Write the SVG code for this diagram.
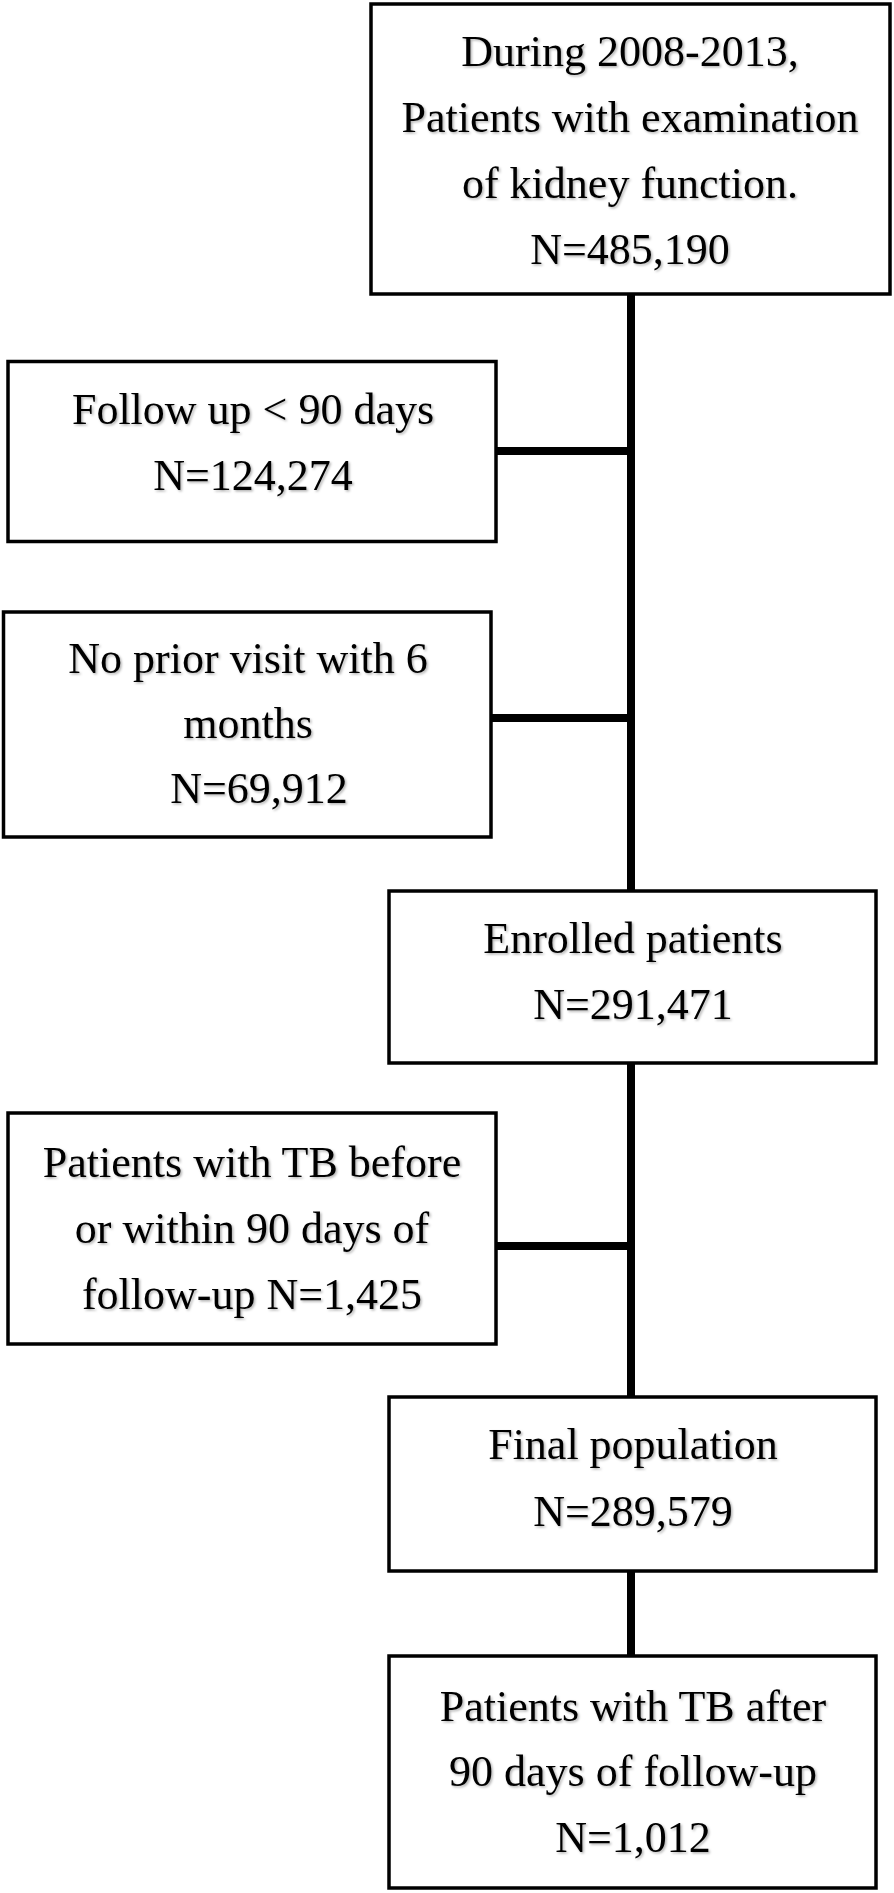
<svg xmlns="http://www.w3.org/2000/svg" width="894" height="1893" viewBox="0 0 894 1893">
<defs>
<filter id="tshadow" x="-5%" y="-20%" width="110%" height="140%">
<feDropShadow dx="1.5" dy="1.5" stdDeviation="1" flood-color="#000" flood-opacity="0.3"/>
</filter>
</defs>
<style>
.box{fill:#fff;stroke:#000;stroke-width:3.5}
.lbl{font-family:"Liberation Serif","Times New Roman","DejaVu Serif",serif;font-size:44px;fill:#000;text-anchor:middle;filter:url(#tshadow)}
.conn{stroke:#000;stroke-width:8;fill:none}
</style>
<rect width="894" height="1893" fill="#fff"/>
<g id="connectors">
<line class="conn" x1="631" y1="294" x2="631" y2="891"/>
<line class="conn" x1="631" y1="1063" x2="631" y2="1397"/>
<line class="conn" x1="631" y1="1571" x2="631" y2="1656"/>
<line class="conn" x1="496" y1="451" x2="631" y2="451"/>
<line class="conn" x1="491" y1="718" x2="631" y2="718"/>
<line class="conn" x1="496" y1="1246" x2="631" y2="1246"/>
</g>
<g id="node-start">
<rect class="box" x="371" y="4" width="519" height="290"/>
<text class="lbl" x="630" y="66">During 2008-2013,</text>
<text class="lbl" x="630" y="132">Patients with examination</text>
<text class="lbl" x="630" y="198">of kidney function.</text>
<text class="lbl" x="630" y="264">N=485,190</text>
</g>
<g id="node-followup">
<rect class="box" x="8" y="361.5" width="488" height="180"/>
<text class="lbl" x="253" y="424">Follow up &lt; 90 days</text>
<text class="lbl" x="253" y="490">N=124,274</text>
</g>
<g id="node-noprior">
<rect class="box" x="3.5" y="612" width="487.5" height="225"/>
<text class="lbl" x="248" y="673">No prior visit with 6</text>
<text class="lbl" x="248" y="738">months</text>
<text class="lbl" x="259" y="803">N=69,912</text>
</g>
<g id="node-enrolled">
<rect class="box" x="389" y="891" width="487" height="172"/>
<text class="lbl" x="633" y="953">Enrolled patients</text>
<text class="lbl" x="633" y="1019">N=291,471</text>
</g>
<g id="node-tbbefore">
<rect class="box" x="8" y="1113" width="488" height="231"/>
<text class="lbl" x="252" y="1177">Patients with TB before</text>
<text class="lbl" x="252" y="1243">or within 90 days of</text>
<text class="lbl" x="252" y="1309">follow-up N=1,425</text>
</g>
<g id="node-final">
<rect class="box" x="389" y="1397" width="487" height="174"/>
<text class="lbl" x="633" y="1459">Final population</text>
<text class="lbl" x="633" y="1526">N=289,579</text>
</g>
<g id="node-tbafter">
<rect class="box" x="389" y="1656" width="487" height="232"/>
<text class="lbl" x="633" y="1721">Patients with TB after</text>
<text class="lbl" x="633" y="1786">90 days of follow-up</text>
<text class="lbl" x="633" y="1852">N=1,012</text>
</g>
</svg>
